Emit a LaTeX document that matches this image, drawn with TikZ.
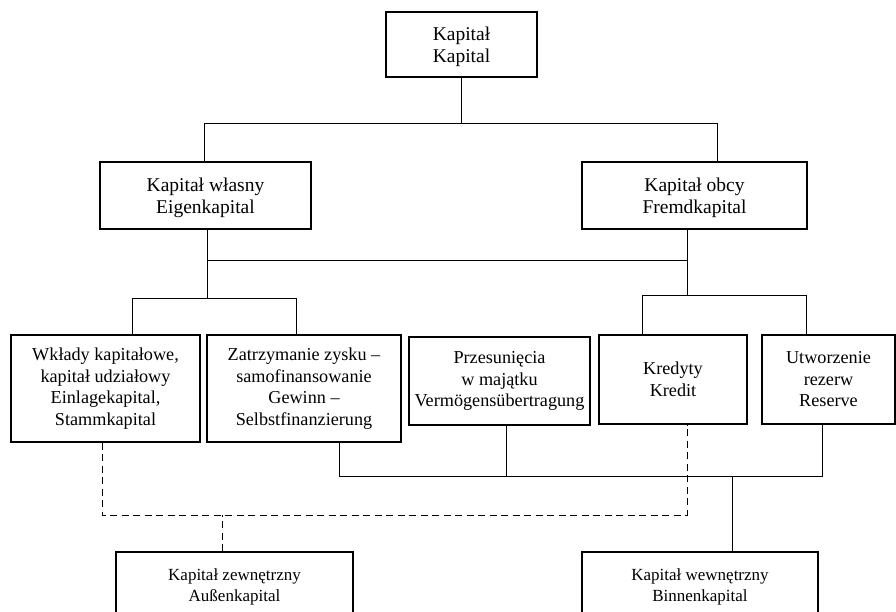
\documentclass[tikz,border=0pt]{standalone}
\usepackage{fontspec}
\setmainfont{Liberation Serif}

\begin{document}
\begin{tikzpicture}[
    x=1pt, y=-1pt,
    box/.style={rectangle,draw,line width=1.1pt,inner sep=0pt,align=center,font=\fontsize{18.2}{21.5}\selectfont},
    headbox/.style={box,font=\fontsize{19.5}{22}\selectfont,text depth=-3pt},
    footbox/.style={box,font=\fontsize{17}{21}\selectfont},
    link/.style={line width=0.9pt},
    dlink/.style={line width=0.9pt,dash pattern=on 7pt off 4.5pt}
]
\useasboundingbox (0,0) rectangle (896,611);
\clip (0,0) rectangle (896,611);

\node[headbox,minimum width=151pt,minimum height=65pt] (kapital) at (461.5,44.5) {Kapitał\\Kapital};
\node[headbox,minimum width=211pt,minimum height=67pt] (eigen) at (205.5,195.5) {Kapitał własny\\Eigenkapital};
\node[headbox,minimum width=225pt,minimum height=67pt] (fremd) at (694.5,195.5) {Kapitał obcy\\Fremdkapital};

\node[box,minimum width=189pt,minimum height=107pt] (wklady) at (105.5,388.5) {Wkłady kapitałowe,\\kapitał udziałowy\\Einlagekapital,\\Stammkapital};
\node[box,minimum width=194pt,minimum height=107pt] (zysk) at (304,388.5) {Zatrzymanie zysku --\\samofinansowanie\\Gewinn --\\Selbstfinanzierung};
\node[box,minimum width=181pt,minimum height=88pt] (przes) at (499.5,381) {Przesunięcia\\w majątku\\Vermögensübertragung};
\node[box,minimum width=148pt,minimum height=89pt] (kredyt) at (673,379.5) {Kredyty\\Kredit};
\node[box,minimum width=133pt,minimum height=89pt] (rezerwa) at (828.5,379.5) {Utworzenie\\rezerw\\Reserve};

\node[footbox,minimum width=237pt,minimum height=70pt] (aussen) at (234.5,587) {Kapitał zewnętrzny\\Außenkapital};
\node[footbox,minimum width=236pt,minimum height=70pt] (binnen) at (700,587) {Kapitał wewnętrzny\\Binnenkapital};

\coordinate (t1) at (204,123);
\coordinate (t2) at (717,123);
\draw[link] (kapital.south) -- (kapital.south |- t1);
\draw[link] (eigen.north -| t1) -- (t1) -- (t2) -- (fremd.north -| t2);

\coordinate (m1) at (207,260);
\coordinate (m2) at (687,260);
\coordinate (l0) at (132,298);
\coordinate (l1) at (207,298);
\coordinate (l2) at (296,298);
\coordinate (r0) at (642,295);
\coordinate (r1) at (687,295);
\coordinate (r2) at (806,295);
\draw[link] (eigen.south -| m1) -- (l1);
\draw[link] (fremd.south -| m2) -- (r1);
\draw[link] (m1) -- (m2);
\draw[link] (wklady.north -| l0) -- (l0) -- (l2) -- (zysk.north -| l2);
\draw[link] (kredyt.north -| r0) -- (r0) -- (r2) -- (rezerwa.north -| r2);

\coordinate (b0) at (339,476);
\coordinate (b1) at (822,476);
\coordinate (b2) at (732,476);
\coordinate (b3) at (506,476);
\draw[link] (zysk.south -| b0) -- (b0) -- (b1) -- (rezerwa.south -| b1);
\draw[link] (przes.south -| b3) -- (b3);
\draw[link] (b2) -- (binnen.north -| b2);

\coordinate (d0) at (102,515);
\coordinate (d1) at (687,515);
\coordinate (d2) at (222,515);
\draw[dlink] (wklady.south -| d0) -- (d0) -- (d1) -- (kredyt.south -| d1);
\draw[dlink] (aussen.north -| d2) -- (d2);
\end{tikzpicture}
\end{document}
